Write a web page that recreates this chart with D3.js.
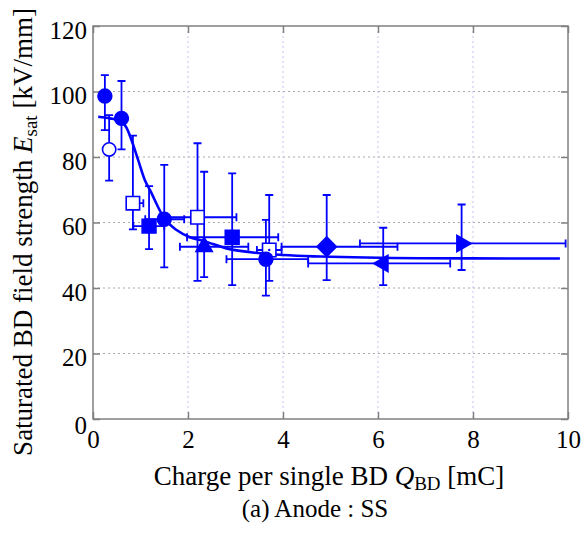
<!DOCTYPE html>
<html>
<head>
<meta charset="utf-8">
<script src="https://cdn.jsdelivr.net/npm/d3@7.9.0/dist/d3.min.js"></script>
<style>
  body { margin: 0; background: #fff; }
  svg { display: block; font-family: 'Liberation Serif', 'Times New Roman', serif; }
</style>
</head>
<body>
<svg id="chart" width="588" height="537"></svg>
<script>
// measured points (Q_BD in mC, E_sat in kV/mm)
const qBD = [0.25, 0.60, 0.34, 0.84, 1.18, 1.50, 2.20, 2.34, 2.93, 3.71, 3.64, 4.92, 6.11, 7.76];
const eSat = [98.6, 91.8, 82.3, 65.9, 58.9, 61.0, 61.6, 52.6, 55.5, 51.6, 48.8, 52.6, 47.5, 53.6];
const eHi = [105.0, 103.2, 92.8, 86.5, 71.1, 77.6, 84.2, 75.5, 75.0, 68.4, 60.8, 68.4, 58.4, 65.5];
const eLo = [88.2, 82.3, 72.8, 57.9, 51.9, 46.3, 42.2, 43.3, 40.9, 42.2, 37.7, 42.4, 40.9, 45.5];
const qLo = [null, null, null, 0.72, 0.85, 1.10, 1.40, 1.83, 1.98, 3.45, 2.81, 3.97, 4.53, 5.62];
const qHi = [null, null, null, 1.06, 1.50, 1.92, 3.02, 3.27, 3.90, 3.97, 4.53, 6.41, 7.52, 9.95];
const markers = ['circle', 'circle', 'circleOpen', 'squareOpen', 'square', 'circle', 'squareOpen',
  'triangleUp', 'square', 'squareDot', 'circle', 'diamond', 'triangleLeft', 'triangleRight'];

// fitted curve
const fitQ = [0.11, 0.36, 0.60, 0.71, 0.81, 0.95, 1.09, 1.20, 1.50, 1.76, 2.04, 2.34, 2.81, 3.52, 4.78, 6.88, 9.83];
const fitE = [92.3, 91.8, 90.8, 88.8, 85.2, 79.1, 73.0, 69.9, 61.3, 57.7, 55.5, 54.3, 52.1, 50.6, 49.6, 49.1, 49.0];

const xTicks = [0, 2, 4, 6, 8, 10];
const yTicks = [0, 20, 40, 60, 80, 100, 120];

const blue = '#0000ff';
const serif = "'Liberation Serif', 'Times New Roman', serif";
const margin = { top: 26, right: 20, bottom: 118, left: 93 };
const width = 588 - margin.left - margin.right;
const height = 537 - margin.top - margin.bottom;

const svg = d3.select('#chart');
const g = svg.append('g').attr('transform', `translate(${margin.left},${margin.top})`);

const x = d3.scaleLinear().domain([0, 10]).range([0, width]);
const y = d3.scaleLinear().domain([0, 120]).range([height, 0]);

// grid
g.selectAll('.hgrid')
  .data(yTicks.filter((d) => d > 0 && d < 120))
  .join('line')
  .attr('x1', 0).attr('x2', width)
  .attr('y1', (d) => y(d)).attr('y2', (d) => y(d))
  .attr('stroke', '#a8a8a8').attr('stroke-width', 1).attr('stroke-dasharray', '2,3');
g.selectAll('.vgrid')
  .data(xTicks.filter((d) => d > 0 && d < 10))
  .join('line')
  .attr('x1', (d) => x(d)).attr('x2', (d) => x(d))
  .attr('y1', 0).attr('y2', height)
  .attr('stroke', '#c4c4f4').attr('stroke-width', 1).attr('stroke-dasharray', '2,3');

// axes, ticks pointing inward
function styleAxis(sel) {
  sel.attr('font-family', serif).attr('font-size', 25);
  sel.select('.domain').remove();
  sel.selectAll('.tick line').attr('stroke', '#808080').attr('stroke-width', 1.5);
  sel.selectAll('.tick text').attr('fill', '#000').style('font-family', serif);
}
g.append('g').attr('transform', `translate(0,${height})`)
  .call(d3.axisBottom(x).tickValues(xTicks).tickSizeInner(-7).tickSizeOuter(0).tickPadding(11))
  .call(styleAxis);
g.append('g')
  .call(d3.axisLeft(y).tickValues(yTicks).tickSizeInner(-7).tickSizeOuter(0).tickPadding(6))
  .call(styleAxis)
  .call((a) => a.selectAll('.tick text').attr('y', (d) => (d === 0 ? 6 : 4)));
g.append('g')
  .call(d3.axisTop(x).tickValues(xTicks).tickSizeInner(-7).tickSizeOuter(0).tickFormat(''))
  .call(styleAxis);
g.append('g').attr('transform', `translate(${width},0)`)
  .call(d3.axisRight(y).tickValues(yTicks).tickSizeInner(-7).tickSizeOuter(0).tickFormat(''))
  .call(styleAxis);

g.append('rect')
  .attr('width', width).attr('height', height)
  .attr('fill', 'none').attr('stroke', '#808080').attr('stroke-width', 1.5);

const pts = qBD.map((q, i) => ({
  q, e: eSat[i], eHi: eHi[i], eLo: eLo[i], qLo: qLo[i], qHi: qHi[i], m: markers[i],
}));

// error bars
const cap = 4;
const eb = g.append('g').attr('stroke', blue).attr('stroke-width', 1.8).attr('fill', 'none');
pts.forEach((d) => {
  const px = x(d.q), py = y(d.e);
  eb.append('path').attr('d',
    `M${px},${y(d.eLo)}V${y(d.eHi)}` +
    `M${px - cap},${y(d.eHi)}H${px + cap}` +
    `M${px - cap},${y(d.eLo)}H${px + cap}`);
  if (d.qLo !== null) {
    eb.append('path').attr('d',
      `M${x(d.qLo)},${py}H${x(d.qHi)}` +
      `M${x(d.qLo)},${py - cap}V${py + cap}` +
      `M${x(d.qHi)},${py - cap}V${py + cap}`);
  }
});

// fitted curve
const line = d3.line().x((d) => x(d[0])).y((d) => y(d[1])).curve(d3.curveMonotoneX);
g.append('path')
  .datum(fitQ.map((q, i) => [q, fitE[i]]))
  .attr('d', line)
  .attr('fill', 'none').attr('stroke', blue).attr('stroke-width', 2.6);

// markers
const symbolFor = {
  circle: { type: d3.symbolCircle, size: 150, rot: 0, open: false },
  circleOpen: { type: d3.symbolCircle, size: 140, rot: 0, open: true },
  square: { type: d3.symbolSquare, size: 190, rot: 0, open: false },
  squareOpen: { type: d3.symbolSquare, size: 180, rot: 0, open: true },
  squareDot: { type: d3.symbolSquare, size: 180, rot: 0, open: true },
  diamond: { type: d3.symbolSquare, size: 190, rot: 45, open: false },
  triangleUp: { type: d3.symbolTriangle, size: 115, rot: 0, open: false },
  triangleLeft: { type: d3.symbolTriangle, size: 115, rot: -90, open: false },
  triangleRight: { type: d3.symbolTriangle, size: 115, rot: 90, open: false },
};
pts.forEach((d) => {
  const s = symbolFor[d.m];
  g.append('path')
    .attr('d', d3.symbol().type(s.type).size(s.size)())
    .attr('transform', `translate(${x(d.q)},${y(d.e)}) rotate(${s.rot})`)
    .attr('fill', s.open ? '#fff' : blue)
    .attr('stroke', blue).attr('stroke-width', 1.6);
  if (d.m === 'squareDot') {
    g.append('circle').attr('cx', x(d.q)).attr('cy', y(d.e)).attr('r', 1.2).attr('fill', blue);
  }
});

// axis labels
const xl = svg.append('text')
  .attr('x', 329).attr('y', 485)
  .attr('text-anchor', 'middle').attr('font-family', serif).style('font-size', '27px');
xl.append('tspan').text('Charge per single BD ');
xl.append('tspan').attr('font-style', 'italic').text('Q');
xl.append('tspan').attr('dy', 5).style('font-size', '19px').text('BD');
xl.append('tspan').attr('dy', -5).text(' [mC]');

const yl = svg.append('text')
  .attr('transform', 'translate(32,232) rotate(-90)')
  .attr('text-anchor', 'middle').attr('font-family', serif).style('font-size', '27px');
yl.append('tspan').text('Saturated BD field strength ');
yl.append('tspan').attr('font-style', 'italic').text('E');
yl.append('tspan').attr('dy', 5).style('font-size', '19px').text('sat');
yl.append('tspan').attr('dy', -5).text(' [kV/mm]');

svg.append('text')
  .attr('x', 315).attr('y', 517)
  .attr('text-anchor', 'middle').attr('font-family', serif).style('font-size', '25px')
  .text('(a) Anode : SS');
</script>
</body>
</html>
